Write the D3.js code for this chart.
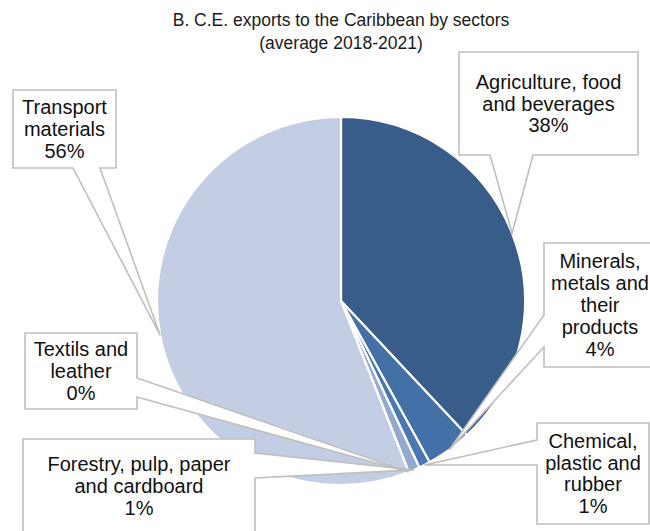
<!DOCTYPE html>
<html>
<head>
<meta charset="utf-8">
<script src="https://cdn.jsdelivr.net/npm/d3@7"></script>
<style>
  html, body { margin: 0; padding: 0; background: #fff; }
  svg { display: block; font-family: "Liberation Sans", Arial, sans-serif; }
</style>
</head>
<body>
<svg id="chart" width="650" height="531"></svg>
<script>
// Sector shares of exports to the Caribbean (%), clockwise from 12 o'clock
const sectors = [
  "Agriculture, food and beverages",
  "Minerals, metals and their products",
  "Chemical, plastic and rubber",
  "Forestry, pulp, paper and cardboard",
  "Textils and leather",
  "Transport materials"
];
const shares = [38, 4, 1, 1, 0, 56];
const labelLines = [
  ["Agriculture, food", "and beverages"],
  ["Minerals,", "metals and", "their", "products"],
  ["Chemical,", "plastic and", "rubber"],
  ["Forestry, pulp, paper", "and cardboard"],
  ["Textils and", "leather"],
  ["Transport", "materials"]
];
const titleLines = ["B. C.E. exports to the Caribbean by sectors", "(average 2018-2021)"];

const colors = ["#385D8A", "#4470A8", "#4A78B5", "#95A9D0", "#B0BFDC", "#C3CDE3"];

// Callout boxes: rectangle, the edge carrying the pointer and the pointer base span
const callouts = [
  { x0: 459, y0: 52,  x1: 638, y1: 155, side: "bottom", b0: 490, b1: 533 },
  { x0: 544, y0: 243, x1: 656, y1: 367, side: "left",   b0: 315, b1: 347 },
  { x0: 537, y0: 423, x1: 649, y1: 524, side: "left",   b0: 440, b1: 465 },
  { x0: 23,  y0: 439, x1: 255, y1: 533, side: "right",  b0: 453, b1: 478 },
  { x0: 25,  y0: 333, x1: 137, y1: 409, side: "right",  b0: 378, b1: 397 },
  { x0: 13,  y0: 90,  x1: 116, y1: 168, side: "bottom", b0: 73,  b1: 100 }
];

const svg = d3.select("#chart");
const cx = 341, cy = 301, r = 184;

// Title
svg.append("g").selectAll("text").data(titleLines).join("text")
  .attr("x", 341).attr("y", (d, i) => 20 + i * 23)
  .attr("dy", "0.35em")
  .attr("text-anchor", "middle")
  .attr("font-size", 17.5)
  .attr("fill", "#1a1a1a")
  .text(d => d);

const pie = d3.pie().sort(null).value(d => d)(shares);
const arc = d3.arc().innerRadius(0).outerRadius(r);

const gPie = svg.append("g").attr("transform", `translate(${cx},${cy})`);
gPie.selectAll("path").data(pie).join("path")
  .attr("d", arc)
  .attr("fill", (d, i) => colors[i])
  .attr("stroke", "#fff")
  .attr("stroke-width", 2.2)
  .attr("stroke-linejoin", "round");

// Pointer tip: mid-angle of each slice, on the rim
function tip(d) {
  const a = (d.startAngle + d.endAngle) / 2;
  return [cx + r * Math.sin(a), cy - r * Math.cos(a)];
}

function calloutPath(c, t) {
  const [tx, ty] = t;
  const p = d3.path();
  p.moveTo(c.x0, c.y0);
  p.lineTo(c.x1, c.y0);
  if (c.side === "right") {
    p.lineTo(c.x1, c.b0); p.lineTo(tx, ty); p.lineTo(c.x1, c.b1);
  }
  p.lineTo(c.x1, c.y1);
  if (c.side === "bottom") {
    p.lineTo(c.b1, c.y1); p.lineTo(tx, ty); p.lineTo(c.b0, c.y1);
  }
  p.lineTo(c.x0, c.y1);
  if (c.side === "left") {
    p.lineTo(c.x0, c.b1); p.lineTo(tx, ty); p.lineTo(c.x0, c.b0);
  }
  p.closePath();
  return p.toString();
}

const fmt = d3.format(".0f");
const gLab = svg.append("g");
pie.forEach((d, i) => {
  const c = callouts[i];
  const g = gLab.append("g");
  g.append("path")
    .attr("d", calloutPath(c, tip(d)))
    .attr("fill", "#fff")
    .attr("stroke", "#BFBFBF")
    .attr("stroke-width", 1.6)
    .attr("stroke-linejoin", "miter");
  const lines = labelLines[i].concat([fmt(shares[i]) + "%"]);
  const lh = 21.8;
  const mx = (c.x0 + c.x1) / 2, my = (c.y0 + c.y1) / 2;
  g.selectAll("text").data(lines).join("text")
    .attr("x", mx)
    .attr("y", (t, j) => my + (j - (lines.length - 1) / 2) * lh)
    .attr("dy", "0.35em")
    .attr("text-anchor", "middle")
    .attr("font-size", 20)
    .attr("fill", "#111")
    .text(t => t);
});
</script>
</body>
</html>
